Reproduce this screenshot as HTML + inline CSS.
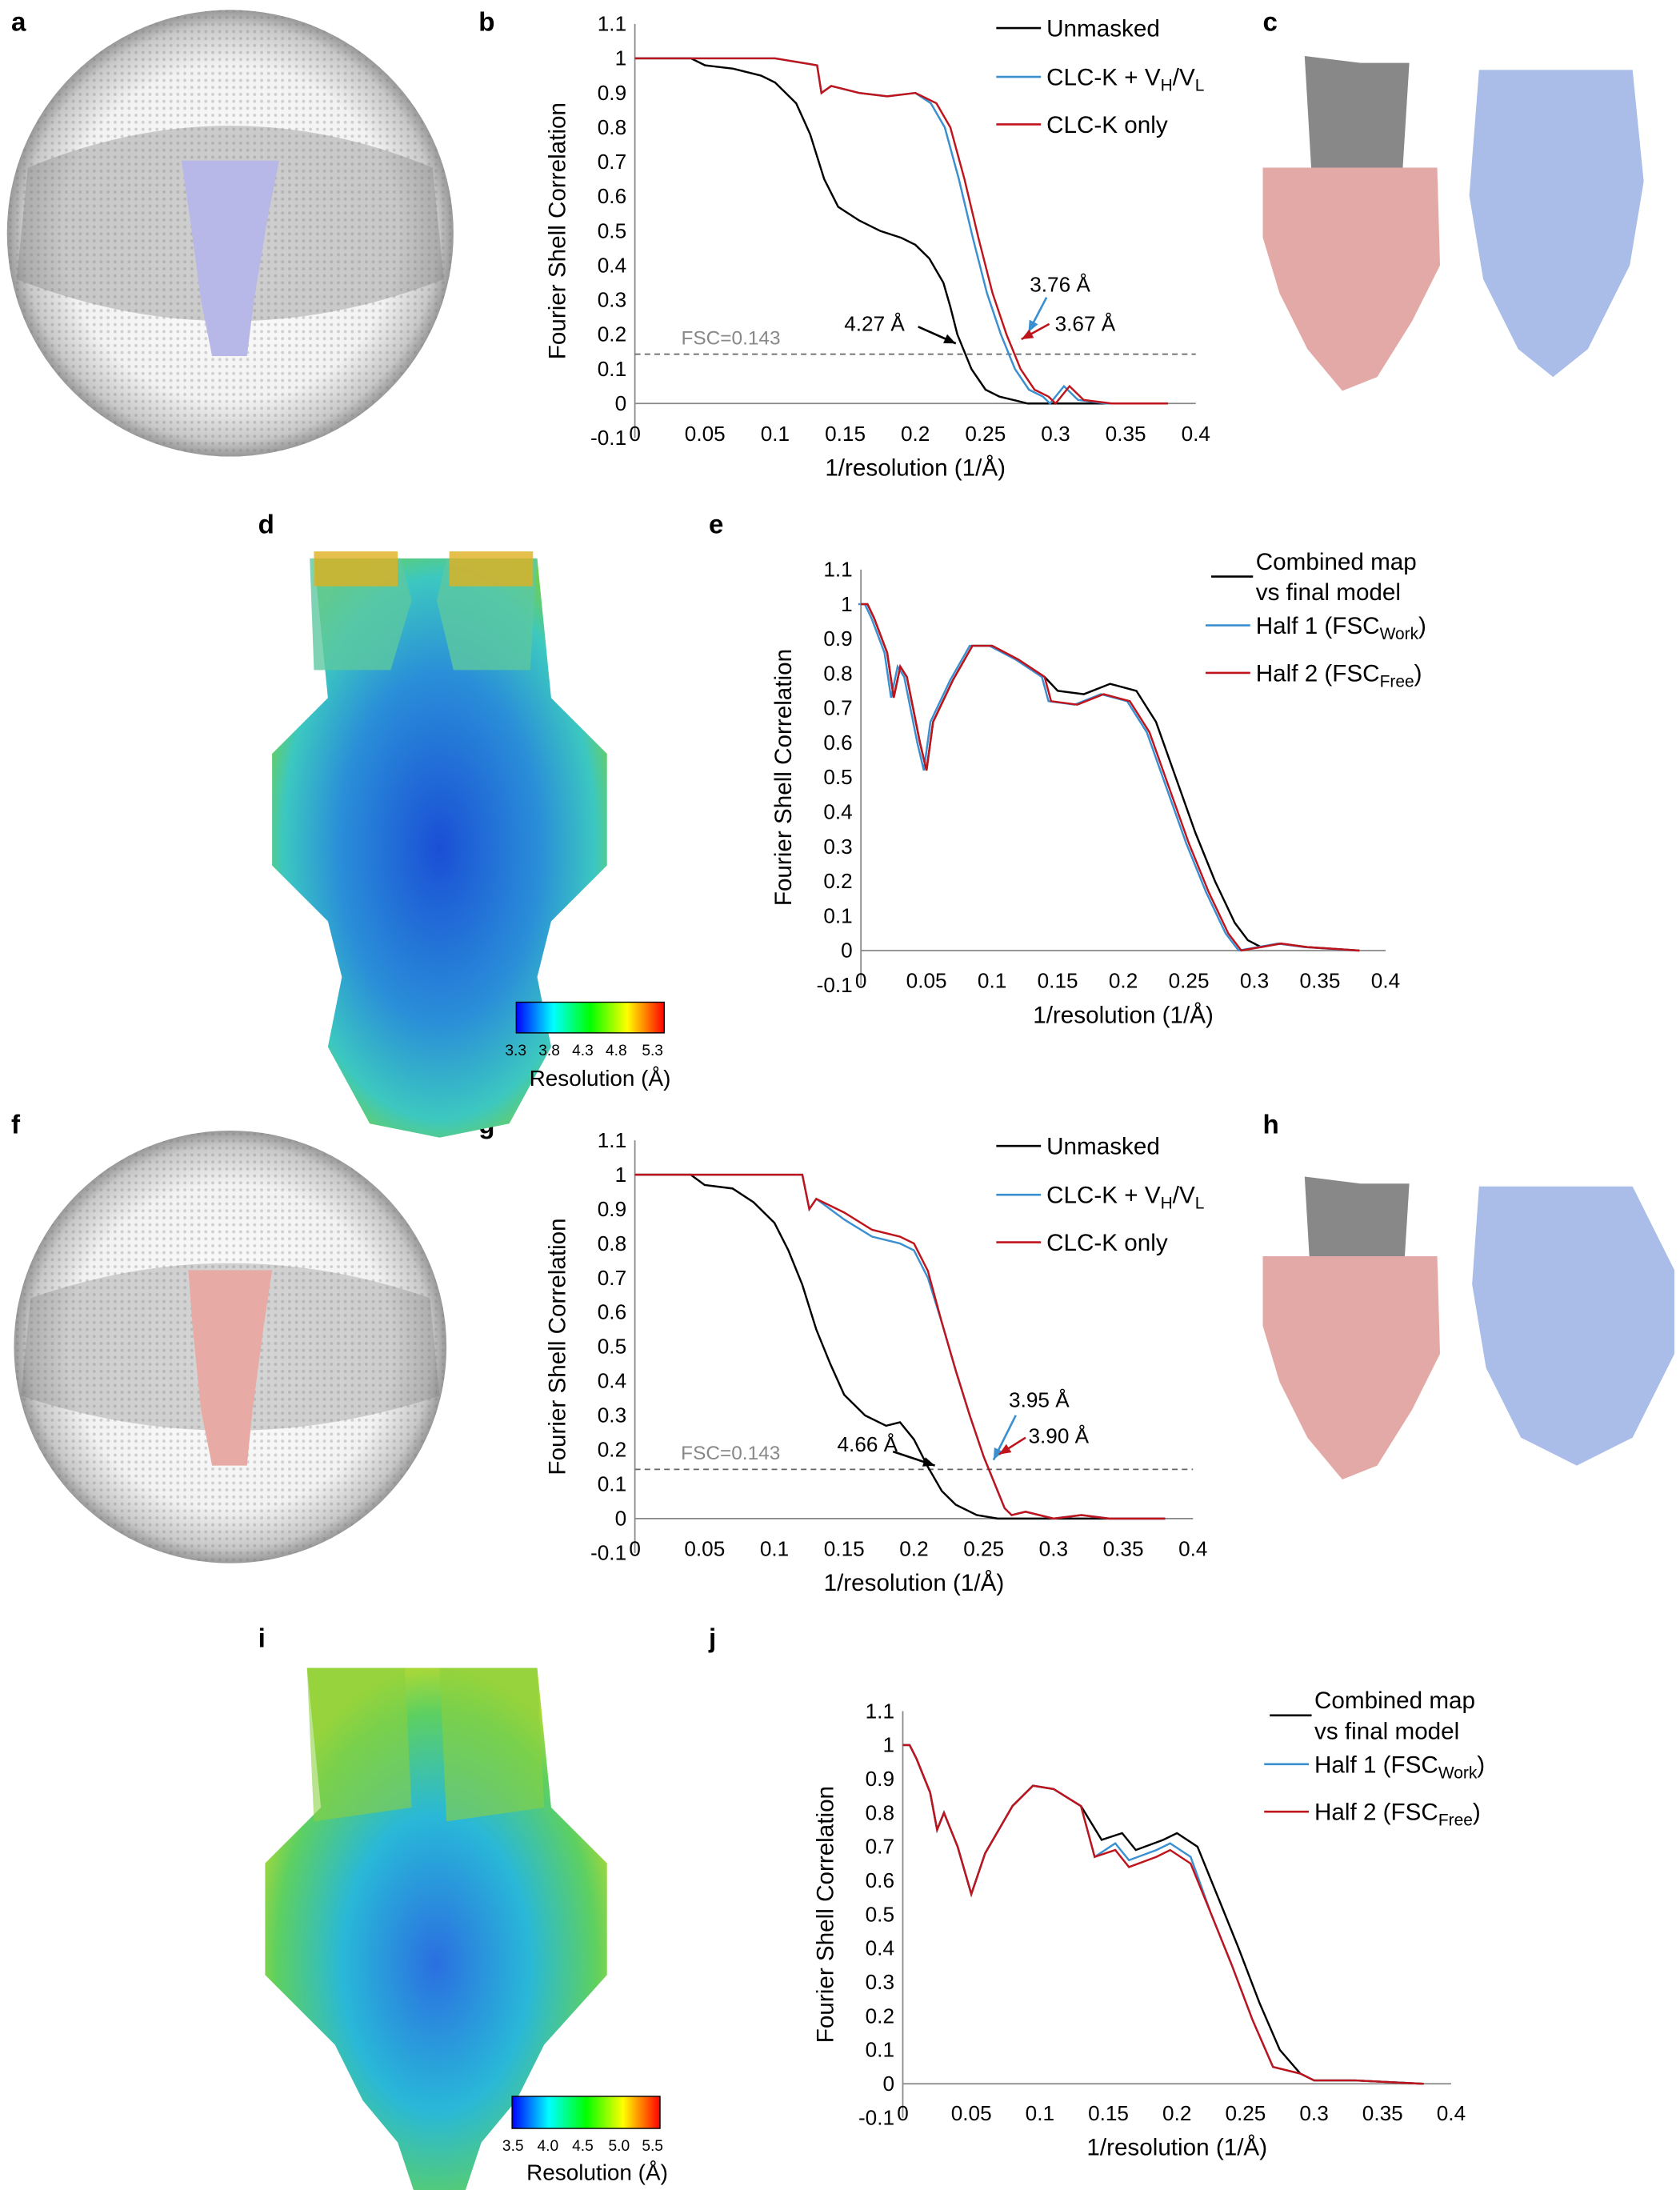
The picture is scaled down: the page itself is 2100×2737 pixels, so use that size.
<!DOCTYPE html>
<html><head><meta charset="utf-8">
<style>html,body{margin:0;padding:0;background:#fff}svg{display:block}
text{font-family:"Liberation Sans",Arial,sans-serif}</style></head>
<body>
<svg id="s" width="2100" height="2737" viewBox="0 0 1204 1569" xmlns="http://www.w3.org/2000/svg">
<defs>
<radialGradient id="sph" cx="50%" cy="50%" r="50%">
<stop offset="0" stop-color="#fff"/><stop offset="0.75" stop-color="#f2f2f2"/><stop offset="0.93" stop-color="#c8c8c8"/><stop offset="1" stop-color="#999"/></radialGradient>
<pattern id="dots" width="5" height="5" patternUnits="userSpaceOnUse"><circle cx="2.5" cy="2.5" r="1.1" fill="#777"/></pattern>
<linearGradient id="cb1" x1="0" x2="1"><stop offset="0" stop-color="#0000ff"/><stop offset="0.25" stop-color="#00ffff"/><stop offset="0.5" stop-color="#00ff00"/><stop offset="0.75" stop-color="#ffff00"/><stop offset="1" stop-color="#ff0000"/></linearGradient>
<radialGradient id="dm" cx="50%" cy="50%" r="55%"><stop offset="0" stop-color="#1a4fd6"/><stop offset="0.55" stop-color="#2a8fd8"/><stop offset="0.85" stop-color="#3cc8c0"/><stop offset="1" stop-color="#6fcf50"/></radialGradient>
<radialGradient id="im" cx="50%" cy="55%" r="55%"><stop offset="0" stop-color="#2a6fe0"/><stop offset="0.5" stop-color="#29b8d8"/><stop offset="0.85" stop-color="#5ed060"/><stop offset="1" stop-color="#a8d838"/></radialGradient>
</defs>
<g font-weight="bold" font-size="19">
<text x="8" y="22">a</text><text x="343" y="22">b</text><text x="905" y="22">c</text>
<text x="185" y="382">d</text><text x="508" y="382">e</text>
<text x="8" y="812">f</text><text x="343" y="812">g</text><text x="905" y="812">h</text>
<text x="185" y="1180">i</text><text x="508" y="1180">j</text>
</g>
<!-- spheres -->
<circle cx="165" cy="167" r="160" fill="url(#sph)"/><circle cx="165" cy="167" r="160" fill="url(#dots)" opacity="0.3"/>
<path d="M20 120 Q165 60 310 120 L318 200 Q165 260 12 200Z" fill="#777" opacity="0.35"/>
<path d="M130 115h70l-8 40 -10 60 -5 40h-25l-8-40 -8-60z" fill="#b8b8e8"/>
<circle cx="165" cy="965" r="155" fill="url(#sph)"/><circle cx="165" cy="965" r="155" fill="url(#dots)" opacity="0.3"/>
<path d="M22 930 Q165 880 308 930 L315 1000 Q165 1050 15 1000Z" fill="#777" opacity="0.3"/>
<path d="M135 910h60l-6 40 -8 60 -4 40h-25l-8-40 -6-60z" fill="#e8aaa4"/>
<!-- c/h -->
<path d="M935 40l40 5 15 80h-50z M970 45l40 0 -5 80 -40 0z" fill="#888"/>
<path d="M905 120h125l2 70 -20 40 -25 40 -25 10 -25-30 -20-40 -12-40z" fill="#e3a9a6"/>
<path d="M1060 50h110l8 80 -10 60 -30 60 -25 20 -25-20 -25-50 -10-60z" fill="#a9bde8"/>
<path d="M935 843l40 5 15 80h-50z M970 848l40 0 -5 80 -40 0z" fill="#888"/>
<path d="M905 900h125l2 70 -20 40 -25 40 -25 10 -25-30 -20-40 -12-40z" fill="#e3a9a6"/>
<path d="M1060 850h110l30 60 0 60 -30 60 -40 20 -40-20 -25-50 -10-60z" fill="#a9bde8"/>
<!-- d map -->
<path d="M225 400h160l10 100 40 40v80l-40 40 -10 40 10 50 -30 55 -50 10 -50-10 -30-55 10-50 -10-40 -40-40v-80l40-40z" fill="url(#dm)"/>
<path d="M222 400h65l8 30 -15 50 -55 0z M320 400h65l-5 80 -55 0 -12-50z" fill="#5cc8a0" opacity="0.8"/>
<path d="M225 395h60v25h-60z M322 395h60v25h-60z" fill="#e0b020" opacity="0.8"/>
<rect x="370" y="718" width="106" height="22" fill="url(#cb1)" stroke="#000" stroke-width="0.8"/>
<g font-size="11"><text x="362" y="756">3.3</text><text x="386" y="756">3.8</text><text x="410" y="756">4.3</text><text x="434" y="756">4.8</text><text x="460" y="756">5.3</text></g>
<text x="430" y="778" font-size="16" text-anchor="middle">Resolution (Å)</text>
<!-- i map -->
<path d="M220 1195h165l10 100 40 40v80l-45 50 -20 40 -25 30 -15 45 -30 0 -15-45 -25-30 -20-40 -50-50v-80l40-40z" fill="url(#im)"/>
<path d="M220 1195h70l5 100 -70 10z M315 1195h70l5 100 -70 10z" fill="#8ad040" opacity="0.6"/>
<rect x="367" y="1502" width="106" height="23" fill="url(#cb1)" stroke="#000" stroke-width="0.8"/>
<g font-size="11"><text x="360" y="1541">3.5</text><text x="385" y="1541">4.0</text><text x="410" y="1541">4.5</text><text x="436" y="1541">5.0</text><text x="460" y="1541">5.5</text></g>
<text x="428" y="1562" font-size="16" text-anchor="middle">Resolution (Å)</text>
<g id="plots"></g>
</svg>
<script>
var NS="http://www.w3.org/2000/svg",P=document.getElementById('plots');
function el(t,a,txt){var e=document.createElementNS(NS,t);for(var k in a)e.setAttribute(k,a[k]);if(txt!=null)e.textContent=txt;P.appendChild(e);return e;}
function plot(o){
 var X=function(v){return o.x0+v/0.4*(o.x1-o.x0)},Y=function(v){return o.y0-v/1.1*(o.y0-o.yt)};
 el('line',{x1:X(0),y1:Y(-0.1),x2:X(0),y2:Y(1.1),stroke:'#888','stroke-width':1});
 el('line',{x1:X(0),y1:Y(0),x2:X(0.4),y2:Y(0),stroke:'#888','stroke-width':1});
 for(var i=-1;i<=11;i++){var v=i/10;var lab=(i==0?'0':(i==10?'1':(i==-1?'-0.1':v.toFixed(1))));
  el('text',{x:X(0)-6,y:Y(v)+5,'font-size':15,'text-anchor':'end'},lab);}
 for(var j=0;j<=8;j++){var v=j*0.05;var lab=j==0?'0':String(+v.toFixed(2));
  el('text',{x:X(v),y:Y(-0.1)+2,'font-size':15,'text-anchor':'middle'},lab);}
 el('text',{x:(X(0)+X(0.4))/2,y:Y(-0.1)+27,'font-size':17,'text-anchor':'middle'},'1/resolution (1/Å)');
 el('text',{transform:'translate('+(X(0)-50)+','+((Y(1.1)+Y(-0.1))/2)+') rotate(-90)','font-size':17,'text-anchor':'middle'},'Fourier Shell Correlation');
 if(o.fsc){el('line',{x1:X(0),y1:Y(0.143),x2:X(0.4),y2:Y(0.143),stroke:'#666','stroke-dasharray':'4,3','stroke-width':1});
  el('text',{x:X(0.033),y:Y(0.143)-7,'font-size':14,fill:'#888'},'FSC=0.143');}
 o.series.forEach(function(s){var d=s.d.map(function(p,i){return (i?'L':'M')+X(p[0]).toFixed(1)+' '+Y(p[1]).toFixed(1)}).join('');
  el('path',{d:d,fill:'none',stroke:s.c,'stroke-width':1.4});});
}
var unB=[[0,1],[0.04,1],[0.05,0.98],[0.07,0.97],[0.09,0.95],[0.1,0.93],[0.115,0.87],[0.125,0.78],[0.135,0.65],[0.145,0.57],[0.16,0.53],[0.175,0.5],[0.19,0.48],[0.2,0.46],[0.21,0.42],[0.22,0.35],[0.225,0.28],[0.23,0.2],[0.24,0.1],[0.25,0.04],[0.26,0.02],[0.27,0.01],[0.28,0],[0.38,0]];
var rB=[[0,1],[0.1,1],[0.13,0.98],[0.133,0.9],[0.14,0.92],[0.16,0.9],[0.18,0.89],[0.2,0.9],[0.215,0.87],[0.225,0.8],[0.235,0.65],[0.245,0.48],[0.255,0.32],[0.265,0.2],[0.275,0.1],[0.285,0.04],[0.295,0.02],[0.3,0.0],[0.31,0.05],[0.32,0.01],[0.34,0],[0.38,0]];
var bB=rB.map(function(p){return [p[0]>0.2?p[0]-0.004:p[0],p[1]]});
plot({x0:455,x1:857,y0:289,yt:17,fsc:1,series:[{c:'#000',d:unB},{c:'#3a8fd0',d:bB},{c:'#c0141c',d:rB}]});
var unG=[[0,1],[0.04,1],[0.05,0.97],[0.07,0.96],[0.085,0.92],[0.1,0.86],[0.11,0.78],[0.12,0.68],[0.13,0.55],[0.14,0.45],[0.15,0.36],[0.165,0.3],[0.18,0.27],[0.19,0.28],[0.2,0.23],[0.21,0.15],[0.22,0.08],[0.23,0.04],[0.245,0.01],[0.26,0],[0.38,0]];
var rG=[[0,1],[0.12,1],[0.125,0.9],[0.13,0.93],[0.15,0.89],[0.17,0.84],[0.19,0.82],[0.2,0.8],[0.21,0.72],[0.22,0.57],[0.23,0.43],[0.24,0.3],[0.25,0.18],[0.26,0.08],[0.265,0.03],[0.27,0.01],[0.28,0.02],[0.3,0],[0.32,0.01],[0.34,0],[0.38,0]];
var bG=rG.map(function(p){return [p[0],p[0]>0.14&&p[0]<0.22?p[1]-0.02:p[1]]});
plot({x0:455,x1:855,y0:1088,yt:817,fsc:1,series:[{c:'#000',d:unG},{c:'#3a8fd0',d:bG},{c:'#c0141c',d:rG}]});
var kE=[[0,1],[0.005,1],[0.01,0.96],[0.02,0.86],[0.025,0.73],[0.03,0.82],[0.035,0.79],[0.045,0.6],[0.05,0.52],[0.055,0.66],[0.07,0.78],[0.085,0.88],[0.1,0.88],[0.12,0.84],[0.14,0.79],[0.15,0.75],[0.17,0.74],[0.19,0.77],[0.21,0.75],[0.225,0.66],[0.24,0.5],[0.255,0.34],[0.27,0.2],[0.285,0.08],[0.295,0.03],[0.305,0.01],[0.32,0.02],[0.34,0.01],[0.38,0]];
var rE=kE.map(function(p){var x=p[0],y=p[1];if(x>0.14&&x<0.3){x-=0.005;y-=0.03}return [x,y]});
var bE=rE.map(function(p){return [p[0]-0.002,p[1]]});
plot({x0:617,x1:993,y0:681,yt:408,series:[{c:'#000',d:kE},{c:'#3a8fd0',d:bE},{c:'#c0141c',d:rE}]});
var kJ=[[0,1],[0.005,1],[0.01,0.96],[0.02,0.86],[0.025,0.75],[0.03,0.8],[0.04,0.7],[0.05,0.56],[0.06,0.68],[0.08,0.82],[0.095,0.88],[0.11,0.87],[0.13,0.82],[0.145,0.72],[0.16,0.74],[0.17,0.69],[0.19,0.72],[0.2,0.74],[0.215,0.7],[0.23,0.55],[0.245,0.4],[0.26,0.24],[0.275,0.1],[0.29,0.03],[0.3,0.01],[0.33,0.01],[0.38,0]];
var rJ=kJ.map(function(p){var x=p[0],y=p[1];if(x>0.14&&x<0.29){x-=0.005;y-=0.05}return [x,y]});
var bJ=rJ.map(function(p){return [p[0],p[0]>0.15&&p[0]<0.22?p[1]+0.02:p[1]]});
plot({x0:647,x1:1040,y0:1493,yt:1226,series:[{c:'#000',d:kJ},{c:'#3a8fd0',d:bJ},{c:'#c0141c',d:rJ}]});
function leg(x,y,c,html,fs){el('line',{x1:x,y1:y,x2:x+32,y2:y,stroke:c,'stroke-width':1.5});var t=el('text',{x:x+36,y:y+6,'font-size':fs||17});t.innerHTML=html;}
leg(714,20,'#000','Unmasked');leg(714,55,'#3a8fd0','CLC-K + V<tspan font-size="12" dy="4">H</tspan><tspan dy="-4">/V</tspan><tspan font-size="12" dy="4">L</tspan>');leg(714,89,'#c0141c','CLC-K only');
leg(714,821,'#000','Unmasked');leg(714,856,'#3a8fd0','CLC-K + V<tspan font-size="12" dy="4">H</tspan><tspan dy="-4">/V</tspan><tspan font-size="12" dy="4">L</tspan>');leg(714,890,'#c0141c','CLC-K only');
function leg2(x,y){el('line',{x1:x,y1:y+11,x2:x+30,y2:y+11,stroke:'#000','stroke-width':1.5});
 el('text',{x:x+32,y:y+6,'font-size':17},'Combined map');el('text',{x:x+32,y:y+28,'font-size':17},'vs final model');
 leg(x-4,y+46,'#3a8fd0','Half 1 (FSC<tspan font-size="12" dy="4">Work</tspan><tspan dy="-4">)</tspan>');
 leg(x-4,y+80,'#c0141c','Half 2 (FSC<tspan font-size="12" dy="4">Free</tspan><tspan dy="-4">)</tspan>');}
leg2(868,402);leg2(910,1218);
function ann(x,y,s){el('text',{x:x,y:y,'font-size':15},s);}
ann(605,237,'4.27 Å');ann(738,209,'3.76 Å');ann(756,237,'3.67 Å');
ann(600,1040,'4.66 Å');ann(723,1008,'3.95 Å');ann(737,1034,'3.90 Å');
function arr(x1,y1,x2,y2,c){el('line',{x1:x1,y1:y1,x2:x2,y2:y2,stroke:c,'stroke-width':1.5});
 var a=Math.atan2(y2-y1,x2-x1),s=9;el('path',{d:'M'+x2+' '+y2+'L'+(x2-s*Math.cos(a-0.4))+' '+(y2-s*Math.sin(a-0.4))+'L'+(x2-s*Math.cos(a+0.4))+' '+(y2-s*Math.sin(a+0.4))+'Z',fill:c});}
arr(658,234,685,246,'#000');arr(750,213,737,238,'#3a8fd0');arr(752,232,732,243,'#c0141c');
arr(640,1040,670,1050,'#000');arr(728,1014,712,1046,'#3a8fd0');arr(735,1030,716,1042,'#c0141c');
</script>
</body></html>
